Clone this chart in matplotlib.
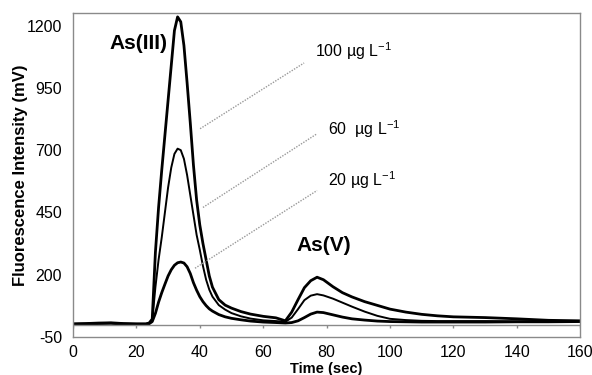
import matplotlib
matplotlib.use("Agg")
import matplotlib.pyplot as plt

plt.rcParams['font.family'] = ['Liberation Sans Narrow', 'Liberation Sans', 'DejaVu Sans']
plt.rcParams['mathtext.fontset'] = 'custom'
plt.rcParams['mathtext.rm'] = 'Liberation Sans'
plt.rcParams['mathtext.default'] = 'regular'
plt.rcParams['axes.unicode_minus'] = False

# время (сек)
time = [0, 4, 8, 12, 16, 20, 23, 24, 25, 26, 27, 28, 29, 30, 31, 32, 33, 34, 35, 36,
        37, 38, 39, 40, 41, 42, 43, 44, 46, 48, 50, 53, 56, 60, 64, 67, 69, 71, 73, 75,
        77, 79, 82, 85, 88, 92, 96, 100, 105, 110, 115, 120, 130, 140, 150, 160]

# интенсивность флуоресценции (mV)
conc_100 = [3, 4, 6, 7, 4, 3, 3, 6, 22, 290, 470, 620, 760, 900, 1040, 1180, 1235, 1215, 1120, 970,
            810, 640, 500, 400, 325, 260, 195, 150, 100, 78, 66, 52, 42, 33, 27, 15, 50, 100, 148, 176,
            190, 180, 152, 128, 111, 92, 77, 62, 50, 41, 35, 31, 28, 23, 17, 15]
conc_60 = [2, 3, 5, 6, 3, 2, 2, 4, 15, 150, 260, 350, 450, 550, 630, 685, 706, 700, 665, 600,
           520, 440, 360, 300, 235, 180, 140, 112, 78, 60, 46, 33, 24, 17, 14, 11, 28, 62, 98, 116,
           122, 117, 104, 88, 72, 52, 35, 23, 18, 15, 14, 14, 14, 13, 14, 14]
conc_20 = [1, 2, 4, 5, 2, 1, 1, 3, 12, 45, 90, 128, 162, 195, 220, 238, 248, 251, 247, 232,
           205, 168, 138, 112, 92, 76, 63, 54, 40, 31, 25, 19, 14, 10, 8, 6, 8, 15, 28, 42,
           50, 48, 39, 30, 23, 18, 14, 12, 11, 10, 10, 10, 10, 11, 11, 12]

xticks = [0, 20, 40, 60, 80, 100, 120, 140, 160]
yticks = [-50, 200, 450, 700, 950, 1200]

fig = plt.figure(figsize=(5.92, 3.75), dpi=100)
ax = fig.add_axes([0.1233, 0.1013, 0.8567, 0.8637])

ax.plot(time, conc_100, color='black', lw=2.0)
ax.plot(time, conc_60, color='black', lw=1.4)
ax.plot(time, conc_20, color='black', lw=2.0)

ax.set_xlim(0, 160)
ax.set_ylim(-50, 1250)
ax.set_xticks(xticks)
ax.set_yticks(yticks)
ax.tick_params(axis='both', length=0, labelsize=11.5)
ax.tick_params(axis='x', pad=6)
ax.tick_params(axis='y', pad=8)

for s in ax.spines.values():
    s.set_color('#8a8a8a')
    s.set_linewidth(1.0)

# горизонтальная ось на уровне 0 с засечками
ax.axhline(0, color='#8a8a8a', lw=1.0)
ax.vlines(xticks, -14, 0, color='#8a8a8a', lw=1.0)

ax.set_xlabel('Time (sec)', fontsize=10.5, fontweight='bold', labelpad=1)
ax.set_ylabel('Fluorescence Intensity (mV)', fontsize=12, fontweight='bold')
ax.yaxis.set_label_coords(-0.089, 0.5)

ax.text(20.8, 1130, 'As(III)', fontsize=15, fontweight='bold', ha='center', va='center')
ax.text(79.2, 318, 'As(V)', fontsize=15, fontweight='bold', ha='center', va='center')

# подписи концентраций с выносками
labels = ['100 µg L$^{-1}$', '60  µg L$^{-1}$', '20 µg L$^{-1}$']
label_pos = [(76.3, 1098), (80.4, 786), (80.4, 578)]
leaders = [((40.1, 786), (72.9, 1050)), ((41.0, 470), (77.0, 766)), ((38.5, 226), (77.0, 538))]
for lab, (lx, ly), ((x0, y0), (x1, y1)) in zip(labels, label_pos, leaders):
    ax.plot([x0, x1], [y0, y1], color='#999999', lw=1.0, ls=(0, (1, 1)))
    ax.text(lx, ly, lab, fontsize=11.5, ha='left', va='center')

fig.savefig('out.png', dpi=100)
